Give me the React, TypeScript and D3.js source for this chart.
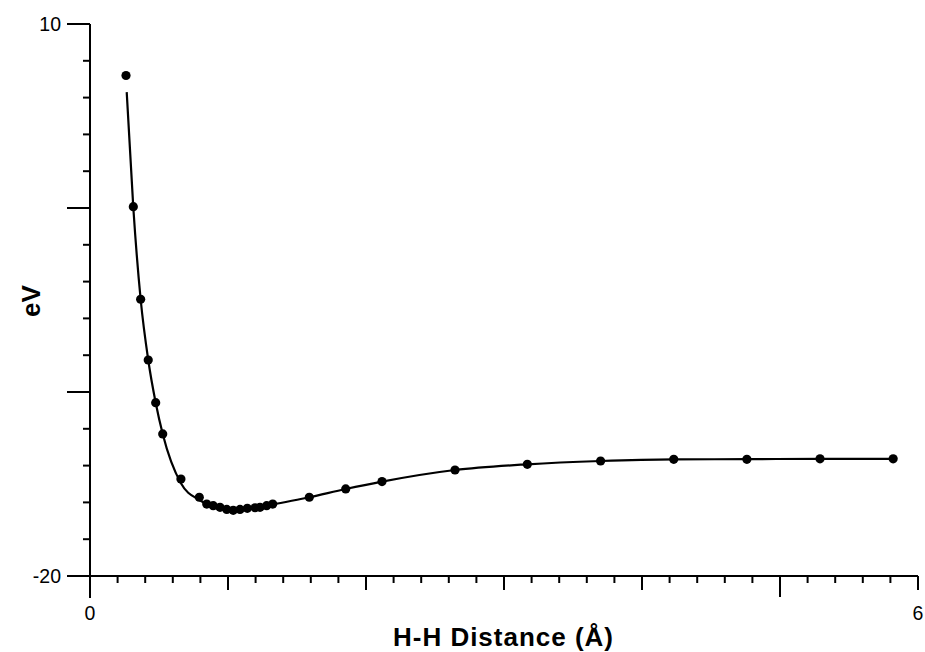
import React from "react";
import * as d3 from "d3";

// Measured points (H-H distance in Å, energy in eV)
const pointX = [0.261, 0.314, 0.367, 0.422, 0.476, 0.527, 0.659, 0.792, 0.846, 0.893, 0.942, 0.991, 1.038, 1.087, 1.14, 1.196, 1.232, 1.28, 1.324, 1.589, 1.853, 2.116, 2.645, 3.169, 3.7, 4.23, 4.76, 5.29, 5.82];
const pointY = [7.2, 0.07, -4.96, -8.26, -10.58, -12.28, -14.73, -15.72, -16.09, -16.18, -16.27, -16.38, -16.43, -16.38, -16.32, -16.29, -16.27, -16.18, -16.09, -15.72, -15.27, -14.87, -14.24, -13.93, -13.75, -13.66, -13.66, -13.63, -13.63];

// Fitted curve samples
const fitX = [0.266, 0.314, 0.367, 0.422, 0.476, 0.527, 0.659, 0.792, 0.9, 1.04, 1.2, 1.324, 1.589, 1.853, 2.116, 2.645, 3.169, 3.7, 4.23, 4.76, 5.29, 5.82];
const fitY = [6.3, 0.0, -4.96, -8.26, -10.58, -12.28, -14.96, -15.87, -16.25, -16.42, -16.33, -16.12, -15.72, -15.27, -14.87, -14.24, -13.93, -13.75, -13.66, -13.65, -13.63, -13.63];

const xMinorTicks = d3.range(0, 31).map((i) => i * 0.2);
const xMajorTicks = [0, 1, 2, 3, 4, 5, 6];
const xTickLabels = ["0", "6"];
const xLabelValues = [0, 6];
const yMinorTicks = d3.range(0, 16).map((i) => -20 + i * 2);
const yMajorTicks = [-20, -10, 0, 10];
const yTickLabels = ["10", "-20"];
const yLabelValues = [10, -20];

export default function App() {
  const x = d3.scaleLinear().domain([0, 6]).range([90, 918]);
  const y = d3.scaleLinear().domain([-20, 10]).range([576, 24]);

  const line = d3
    .line<number>()
    .x((_, i) => x(fitX[i]))
    .y((_, i) => y(fitY[i]))
    .curve(d3.curveMonotoneX);

  const font = "'Liberation Sans', Arial, Helvetica, sans-serif";
  const majorLenX = (v: number) => (v === 0 ? 22 : v === 5 ? 21 : 14);

  return (
    <svg
      width={925}
      height={652}
      style={{ position: "absolute", left: 0, top: 0, background: "#fff" }}
    >
      <rect x={0} y={0} width={925} height={652} fill="#fff" />
      {/* axes lines */}
      <line x1={x(0)} x2={x(0)} y1={y(10)} y2={576} stroke="#000" strokeWidth={2} />
      <line x1={x(0)} x2={x(6)} y1={y(-20)} y2={y(-20)} stroke="#000" strokeWidth={2} />
      {/* y ticks */}
      {yMinorTicks.map((v) => (
        <line key={"ym" + v} x1={x(0) - 7} x2={x(0)} y1={y(v)} y2={y(v)} stroke="#000" strokeWidth={2} />
      ))}
      {yMajorTicks.map((v) => (
        <line key={"yM" + v} x1={x(0) - 23} x2={x(0)} y1={y(v)} y2={y(v)} stroke="#000" strokeWidth={2} />
      ))}
      {/* x ticks */}
      {xMinorTicks.map((v) => (
        <line key={"xm" + v} x1={x(v)} x2={x(v)} y1={y(-20)} y2={y(-20) + 7} stroke="#000" strokeWidth={2} />
      ))}
      {xMajorTicks.map((v) => (
        <line key={"xM" + v} x1={x(v)} x2={x(v)} y1={y(-20)} y2={y(-20) + majorLenX(v)} stroke="#000" strokeWidth={2} />
      ))}
      {/* tick labels */}
      {yLabelValues.map((v, i) => (
        <text key={"yl" + v} x={61} y={y(v)} dy="0.36em" textAnchor="end" fontFamily={font} fontSize={19.5} fill="#000">
          {yTickLabels[i]}
        </text>
      ))}
      {xLabelValues.map((v, i) => (
        <text key={"xl" + v} x={x(v)} y={620} textAnchor="middle" fontFamily={font} fontSize={19.5} fill="#000">
          {xTickLabels[i]}
        </text>
      ))}
      {/* axis titles */}
      <text x={503} y={646} textAnchor="middle" fontFamily={font} fontWeight="bold" fontSize={26} fill="#000" textLength={220} lengthAdjust="spacing">
        H-H Distance (Å)
      </text>
      <text
        transform={`translate(40, 301) rotate(-90)`}
        textAnchor="middle"
        fontFamily={font}
        fontWeight="bold"
        fontSize={26}
        fill="#000"
      >
        eV
      </text>
      {/* fit curve */}
      <path d={line(fitX) || ""} fill="none" stroke="#000" strokeWidth={2.2} />
      {/* points */}
      {pointX.map((v, i) => (
        <circle key={"p" + i} cx={x(v)} cy={y(pointY[i])} r={4.6} fill="#000" />
      ))}
    </svg>
  );
}
